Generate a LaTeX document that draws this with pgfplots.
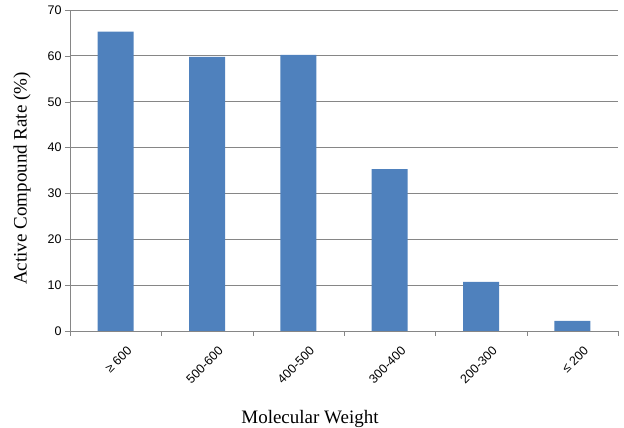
\documentclass[border=0pt]{standalone}
\usepackage{pgfplots}
\pgfplotsset{compat=1.18}
\usepackage{fontspec}
\setmainfont{Liberation Serif}
\newfontfamily\tickfont{Liberation Sans}
\definecolor{barblue}{HTML}{4F81BD}
\definecolor{gridgray}{HTML}{868686}
\begin{document}
\begin{tikzpicture}[x=1pt,y=1pt]
\begin{axis}[
  name=ax,
  scale only axis,
  width=548pt, height=321pt,
  xmin=0, xmax=6, ymin=0, ymax=70,
  ytick={0,10,...,70},
  xtick={0.5,1.5,...,5.5},
  xticklabels={≥ 600,500-600,400-500,300-400,200-300,≤ 200},
  minor xtick={0,1,...,6},
  major x tick style={draw=none},
  minor x tick style={draw=gridgray},
  minor tick length=5pt,
  major tick length=5pt,
  tick align=outside,
  tick pos=left,
  axis x line*=bottom,
  axis y line*=left,
  axis line style={draw=gridgray},
  ytick style={draw=gridgray},
  ymajorgrids,
  grid style={draw=gridgray, line width=0.8pt},
  x tick label style={font=\tickfont\fontsize{12.5}{14}\selectfont, rotate=45, anchor=north east, inner sep=2pt, yshift=-12pt, xshift=3pt},
  y tick label style={font=\tickfont\fontsize{12.5}{14}\selectfont},
  /pgf/number format/assume math mode=true,
  xlabel={Molecular Weight},
  ylabel={Active Compound Rate (\%)},
  label style={font=\fontsize{19}{22}\selectfont},
  xlabel style={yshift=-20pt, xshift=-34pt},
  ylabel style={yshift=10pt, xshift=-8pt},
  clip=false,
]
\addplot[ybar, bar width=36pt, fill=barblue, draw=none] coordinates {
  (0.5,65.3) (1.5,59.8) (2.5,60.2) (3.5,35.3) (4.5,10.7) (5.5,2.2)
};
\end{axis}
\pgfresetboundingbox
\path (ax.south west) ++(-70,-97) rectangle ++(624,428);
\end{tikzpicture}
\end{document}
